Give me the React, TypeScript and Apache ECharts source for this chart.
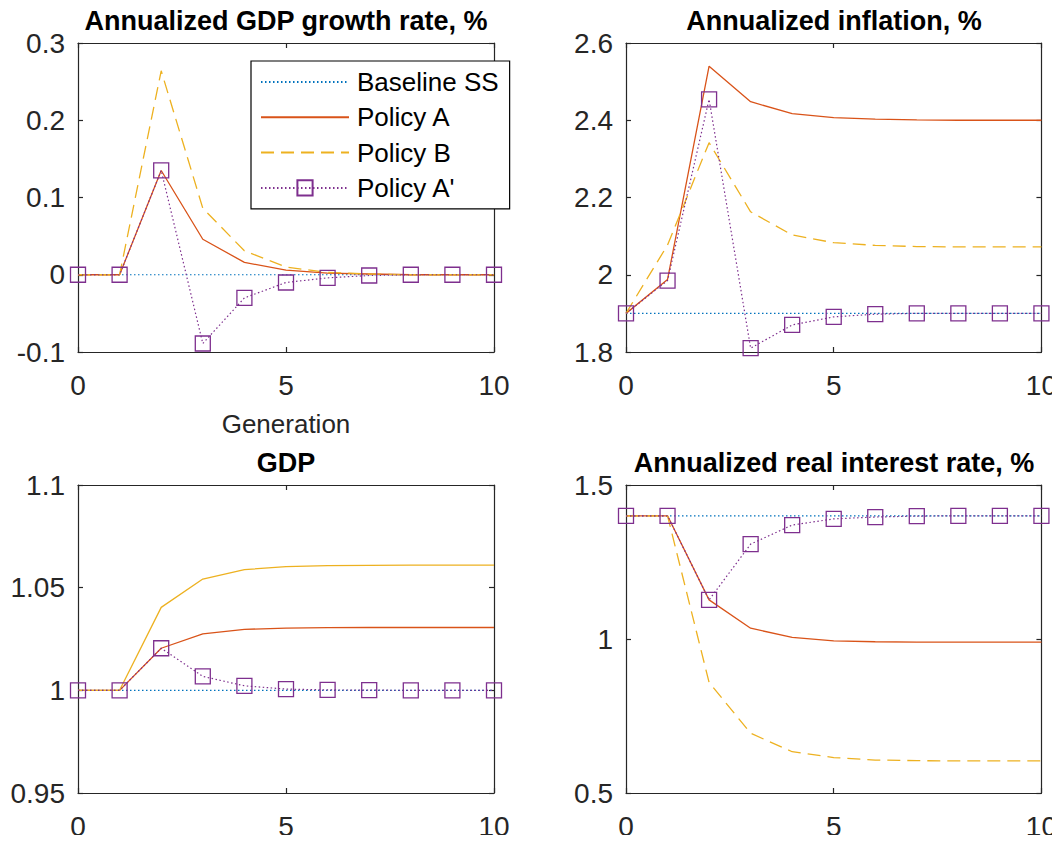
import React, { useEffect, useRef } from "react";
import * as echarts from "echarts";

const generations = [0, 1, 2, 3, 4, 5, 6, 7, 8, 9, 10];
const seriesNames = ["Baseline SS", "Policy A", "Policy B", "Policy A'"];

const growthBase = [0, 0, 0, 0, 0, 0, 0, 0, 0, 0, 0];
const growthA = [0, 0, 0.135, 0.046, 0.016, 0.006, 0.002, 0.001, 0, 0, 0];
const growthB = [0, 0, 0.264, 0.086, 0.031, 0.01, 0.003, 0.001, 0, 0, 0];
const growthA2 = [0, 0, 0.135, -0.089, -0.03, -0.01, -0.004, -0.001, 0, 0, 0];

const inflBase = [1.9, 1.9, 1.9, 1.9, 1.9, 1.9, 1.9, 1.9, 1.9, 1.9, 1.9];
const inflA = [1.9, 1.988, 2.54, 2.448, 2.417, 2.407, 2.403, 2.401, 2.4, 2.4, 2.4];
const inflB = [1.9, 2.077, 2.342, 2.163, 2.103, 2.083, 2.076, 2.073, 2.072, 2.072, 2.072];
const inflA2 = [1.9, 1.985, 2.454, 1.81, 1.87, 1.891, 1.898, 1.9, 1.9, 1.9, 1.9];

const gdpBase = [1, 1, 1, 1, 1, 1, 1, 1, 1, 1, 1];
const gdpA = [1, 1, 1.0205, 1.0275, 1.0297, 1.0303, 1.0305, 1.0306, 1.0306, 1.0306, 1.0306];
const gdpB = [1, 1, 1.0404, 1.0542, 1.0588, 1.0602, 1.0607, 1.0609, 1.061, 1.061, 1.061];
const gdpA2 = [1, 1, 1.0205, 1.0068, 1.0022, 1.0006, 1.0002, 1.0001, 1, 1, 1];

const rateBase = [1.4, 1.4, 1.4, 1.4, 1.4, 1.4, 1.4, 1.4, 1.4, 1.4, 1.4];
const rateA = [1.4, 1.4, 1.127, 1.035, 1.005, 0.994, 0.991, 0.99, 0.99, 0.99, 0.99];
const rateB = [1.4, 1.4, 0.859, 0.694, 0.634, 0.615, 0.607, 0.605, 0.604, 0.604, 0.604];
const rateA2 = [1.4, 1.4, 1.127, 1.308, 1.37, 1.39, 1.396, 1.399, 1.4, 1.4, 1.4];

const titles = [
  "Annualized GDP growth rate, %",
  "Annualized inflation, %",
  "GDP",
  "Annualized real interest rate, %",
];
const yRanges = [
  { min: -0.1, max: 0.3, interval: 0.1 },
  { min: 1.8, max: 2.6, interval: 0.2 },
  { min: 0.95, max: 1.1, interval: 0.05 },
  { min: 0.5, max: 1.5, interval: 0.5 },
];
const panelData = [
  [growthBase, growthA, growthB, growthA2],
  [inflBase, inflA, inflB, inflA2],
  [gdpBase, gdpA, gdpB, gdpA2],
  [rateBase, rateA, rateB, rateA2],
];
// whether Policy B is dashed in each panel
const policyBDashed = [true, true, false, true];

const BLUE = "#0072BD";
const RED = "#D95319";
const YELLOW = "#EDB120";
const PURPLE = "#7E2F8E";
const AXIS = "#262626";
const FONT = "Liberation Sans, Arial, Helvetica, sans-serif";

const grids = [
  { left: 78, top: 43, width: 416, height: 309 },
  { left: 626, top: 43, width: 416, height: 309 },
  { left: 78, top: 485, width: 416, height: 308 },
  { left: 626, top: 485, width: 416, height: 308 },
];

export default function App() {
  const ref = useRef<HTMLDivElement>(null);
  useEffect(() => {
    if (!ref.current) return;
    const chart = echarts.init(ref.current, undefined, { renderer: "svg" });

    const xAxes: any[] = [];
    const yAxes: any[] = [];
    const series: any[] = [];
    const title: any[] = [];

    grids.forEach((g, i) => {
      title.push({
        text: titles[i],
        left: g.left + g.width / 2,
        top: g.top - 36,
        padding: 0,
        textAlign: "center",
        textStyle: { fontFamily: FONT, fontSize: 27, lineHeight: 27, fontWeight: "bold", color: "#000" },
      });
      const axisLine = { show: true, onZero: false, lineStyle: { color: AXIS, width: 1.2 } };
      const axisTick = { show: true, inside: true, length: 5, lineStyle: { color: AXIS, width: 1.2 } };
      xAxes.push({
        type: "value",
        gridIndex: i,
        min: 0,
        max: 10,
        interval: 5,
        position: "bottom",
        axisLine,
        axisTick,
        splitLine: { show: false },
        axisLabel: { fontFamily: FONT, fontSize: 28, lineHeight: 28, color: AXIS, margin: 19 },
        ...(i === 0
          ? {
              name: "Generation",
              nameLocation: "middle",
              nameGap: 59,
              nameTextStyle: { fontFamily: FONT, fontSize: 26, lineHeight: 26, color: AXIS },
            }
          : {}),
      });
      xAxes.push({
        type: "value",
        gridIndex: i,
        min: 0,
        max: 10,
        interval: 5,
        position: "top",
        axisLine,
        axisTick,
        splitLine: { show: false },
        axisLabel: { show: false },
      });
      yAxes.push({
        type: "value",
        gridIndex: i,
        ...yRanges[i],
        position: "left",
        axisLine,
        axisTick,
        splitLine: { show: false },
        axisLabel: { fontFamily: FONT, fontSize: 28, color: AXIS, margin: 13 },
      });
      yAxes.push({
        type: "value",
        gridIndex: i,
        ...yRanges[i],
        position: "right",
        axisLine,
        axisTick,
        splitLine: { show: false },
        axisLabel: { show: false },
      });

      const [base, a, b, a2] = panelData[i];
      const toPts = (arr: number[]) => arr.map((v, k) => [generations[k], v]);
      const common = { xAxisIndex: i * 2, yAxisIndex: i * 2, type: "line", silent: true };
      series.push({
        ...common,
        name: seriesNames[0],
        data: toPts(base),
        symbol: "none",
        lineStyle: { color: BLUE, width: 1.2, type: [1.5, 2.5] },
        itemStyle: { color: BLUE },
      });
      series.push({
        ...common,
        name: seriesNames[1],
        data: toPts(a),
        symbol: "none",
        lineStyle: { color: RED, width: 1.3 },
        itemStyle: { color: RED },
      });
      series.push({
        ...common,
        name: seriesNames[2],
        data: toPts(b),
        symbol: "none",
        lineStyle: { color: YELLOW, width: 1.3, type: policyBDashed[i] ? [13, 7] : "solid" },
        itemStyle: { color: YELLOW },
      });
      series.push({
        ...common,
        name: seriesNames[3],
        data: toPts(a2),
        symbol: "rect",
        symbolSize: 15,
        showSymbol: true,
        lineStyle: { color: PURPLE, width: 1.2, type: [1.5, 2.5] },
        itemStyle: { color: "rgba(255,255,255,0)", borderColor: PURPLE, borderWidth: 1.3 },
      });
    });

    chart.setOption({
      animation: false,
      backgroundColor: "#fff",
      title,
      grid: grids.map((g) => ({ ...g, containLabel: false })),
      xAxis: xAxes,
      yAxis: yAxes,
      series,
      legend: {
        data: seriesNames.map((n, k) =>
          k < 3 ? { name: n, itemStyle: { opacity: 0 } } : { name: n }
        ),
        orient: "vertical",
        left: 251,
        top: 61,
        backgroundColor: "#fff",
        borderColor: "#000",
        borderWidth: 1.2,
        borderRadius: 0,
        padding: [8, 11, 8, 9],
        itemWidth: 88,
        itemHeight: 19,
        itemGap: 9.3,
        selectedMode: false,
        textStyle: { fontFamily: FONT, fontSize: 26, color: "#000", lineHeight: 26, padding: [0, 0, 0, 3] },
      },
    });
    return () => chart.dispose();
  }, []);
  return <div ref={ref} style={{ width: 1060, height: 843, margin: -8 }} />;
}
